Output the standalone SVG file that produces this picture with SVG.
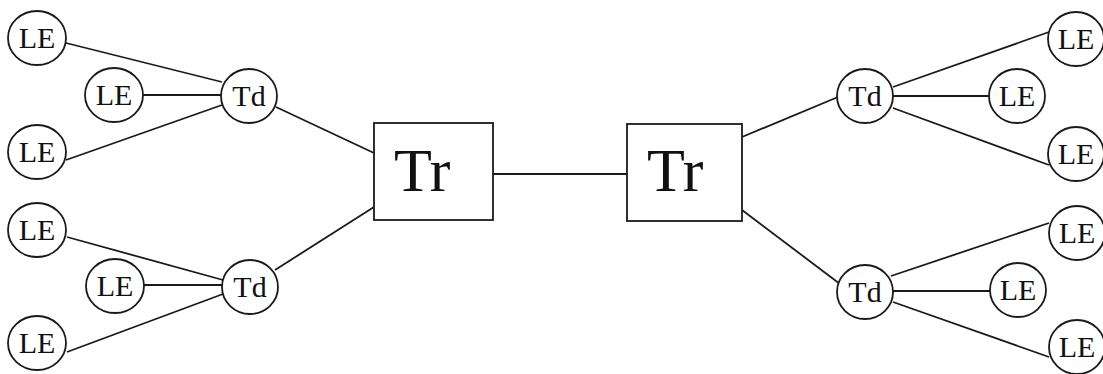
<svg xmlns="http://www.w3.org/2000/svg" width="1103" height="374" viewBox="0 0 1103 374">
<style>
.n{fill:#fff;stroke:#1a1a1a;stroke-width:1.8}
.t{font-family:"Liberation Serif","Times New Roman",serif;font-size:30px;fill:#111;text-anchor:middle}
.big{font-family:"Liberation Serif","Times New Roman",serif;font-size:62px;fill:#111}
#connectors line{stroke:#1a1a1a;stroke-width:1.8}
</style>
<rect width="1103" height="374" fill="#fff"/>
<g id="connectors">
<line x1="66" y1="43" x2="222" y2="82"/>
<line x1="142" y1="95" x2="221" y2="95"/>
<line x1="66" y1="160" x2="222" y2="105"/>
<line x1="276" y1="107" x2="374" y2="153"/>
<line x1="67" y1="237" x2="223" y2="280"/>
<line x1="143" y1="285" x2="222" y2="285"/>
<line x1="67" y1="352" x2="223" y2="294"/>
<line x1="275" y1="270" x2="374" y2="207"/>
<line x1="493" y1="174" x2="627" y2="174"/>
<line x1="742" y1="137" x2="838" y2="97"/>
<line x1="893" y1="87" x2="1049" y2="32"/>
<line x1="893" y1="96" x2="989" y2="96"/>
<line x1="893" y1="108" x2="1049" y2="165"/>
<line x1="742" y1="210" x2="840" y2="284"/>
<line x1="891" y1="276" x2="1049" y2="223"/>
<line x1="893" y1="291" x2="991" y2="291"/>
<line x1="893" y1="302" x2="1049" y2="357"/>
</g>
<g id="le1"><ellipse class="n" cx="37" cy="38" rx="29" ry="27"/><text class="t" x="37" y="48">LE</text></g>
<g id="le2"><ellipse class="n" cx="114" cy="95" rx="29" ry="27"/><text class="t" x="114" y="105">LE</text></g>
<g id="le3"><ellipse class="n" cx="37" cy="152" rx="29" ry="27"/><text class="t" x="37" y="162">LE</text></g>
<g id="td1"><ellipse class="n" cx="249" cy="96" rx="28" ry="27"/><text class="t" x="249" y="106">Td</text></g>
<g id="le4"><ellipse class="n" cx="37" cy="230" rx="29" ry="27"/><text class="t" x="37" y="240">LE</text></g>
<g id="le5"><ellipse class="n" cx="115" cy="286" rx="29" ry="27"/><text class="t" x="115" y="296">LE</text></g>
<g id="le6"><ellipse class="n" cx="37" cy="343" rx="29" ry="27"/><text class="t" x="37" y="353">LE</text></g>
<g id="td2"><ellipse class="n" cx="250" cy="287" rx="28" ry="27"/><text class="t" x="250" y="297">Td</text></g>
<g id="tr1"><rect class="n" x="374" y="123" width="119" height="97"/><text class="big" x="394" y="191">Tr</text></g>
<g id="tr2"><rect class="n" x="627" y="124" width="115" height="97"/><text class="big" x="647" y="191">Tr</text></g>
<g id="td3"><ellipse class="n" cx="865" cy="96" rx="28" ry="27"/><text class="t" x="865" y="106">Td</text></g>
<g id="le7"><ellipse class="n" cx="1076" cy="39" rx="28" ry="27"/><text class="t" x="1076" y="49">LE</text></g>
<g id="le8"><ellipse class="n" cx="1017" cy="96" rx="28" ry="27"/><text class="t" x="1017" y="106">LE</text></g>
<g id="le9"><ellipse class="n" cx="1076" cy="154" rx="28" ry="27"/><text class="t" x="1076" y="164">LE</text></g>
<g id="td4"><ellipse class="n" cx="865" cy="292" rx="28" ry="27"/><text class="t" x="865" y="302">Td</text></g>
<g id="le10"><ellipse class="n" cx="1077" cy="233" rx="28" ry="27"/><text class="t" x="1077" y="243">LE</text></g>
<g id="le11"><ellipse class="n" cx="1018" cy="290" rx="28" ry="27"/><text class="t" x="1018" y="300">LE</text></g>
<g id="le12"><ellipse class="n" cx="1077" cy="347" rx="28" ry="27"/><text class="t" x="1077" y="357">LE</text></g>
</svg>
